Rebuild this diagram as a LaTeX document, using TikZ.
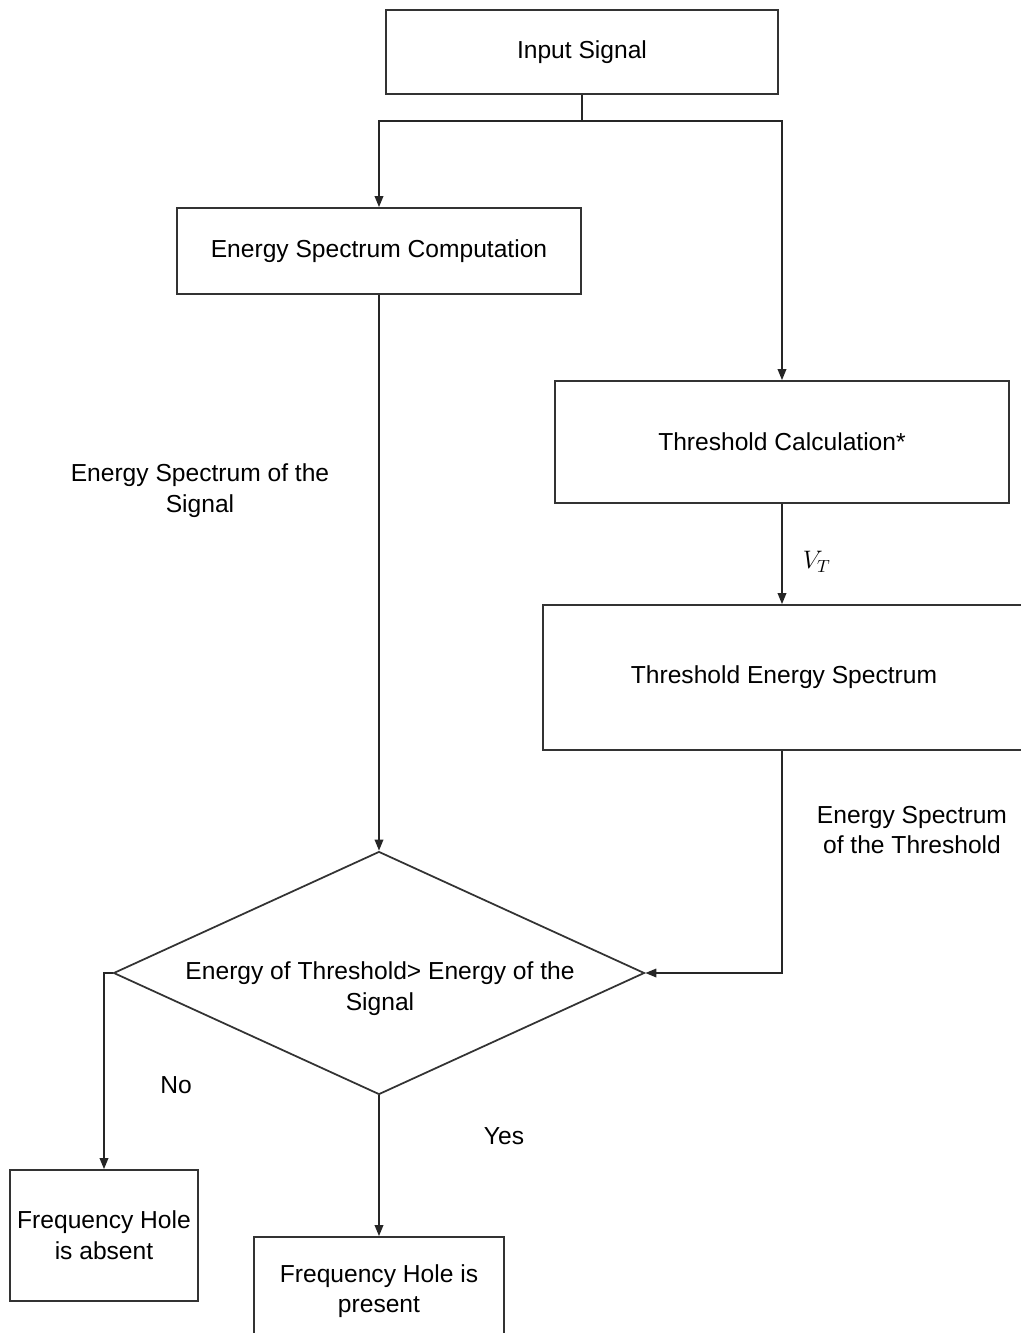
\documentclass[tikz,border=0pt]{standalone}
\usepackage{fontspec}
\setmainfont{Liberation Sans}
\usetikzlibrary{shapes.geometric,arrows.meta}
\tikzset{
  box/.style={draw=black!80,line width=1pt,rectangle,align=center,inner sep=2pt},
  decision/.style={draw=black!80,line width=1pt,diamond,aspect=2.185,inner sep=0pt},
  label/.style={align=center,inner sep=0pt},
  flow/.style={draw=black!85,line width=1pt,-{Triangle[length=2.2mm,width=1.7mm]}},
  every node/.style={font=\fontsize{14}{17.5}\selectfont}
}
\begin{document}
\begin{tikzpicture}[x=0.02cm,y=-0.02cm]
      \useasboundingbox (0,0) rectangle (1021,1333); % page size
      \node[box,minimum width=7.84cm,minimum height=1.68cm] (input) at (582,52) {Input Signal}; % input
      \node[box,minimum width=8.08cm,minimum height=1.72cm] (energy) at (379,251) {Energy Spectrum Computation}; % spectrum
      \node[box,minimum width=9.08cm,minimum height=2.44cm] (thresh) at (782,442) {Threshold Calculation*}; % threshold
      \node[box,minimum width=9.64cm,minimum height=2.90cm] (threshspec) at (784,677.5) {Threshold Energy Spectrum}; % threshold spectrum
      \node[decision,minimum width=10.62cm,minimum height=4.86cm] (test) at (379,973) {}; % comparison
      \node[label] (testtext) at (380,989) {Energy of Threshold> Energy of the\\Signal}; % comparison text
      \node[box,minimum width=3.76cm,minimum height=2.62cm] (absent) at (104,1235.5) {Frequency Hole\\is absent}; % no hole
      \node[box,minimum width=5.0cm,minimum height=2.16cm] (present) at (379,1291) {Frequency Hole is\\present}; % hole
      \coordinate (split) at (582,121); % branch point
      \draw[draw=black!85,line width=1pt] (input.south) -- (split); % Wiring
      \draw[flow] (split) -| (energy.north); % Wiring
      \draw[flow] (split) -| (thresh.north); % Wiring
      \draw[flow] (thresh.south) -- node[right=8pt,yshift=-0.16cm] (vt) {$V_T$} (thresh.south |- threshspec.north); % VT
      \draw[flow] (energy) -- (test.north); % Wiring
      \draw[flow] (thresh.south |- threshspec.south) |- (test.east); % Wiring
      \draw[flow] (test.west) -| (absent.north); % No branch
      \draw[flow] (test.south) -- (present.north); % Yes branch
      \node[label] (sigspec) at (200,491) {Energy Spectrum of the\\Signal}; % left label
      \node[label] (thrspec) at (912,830) {Energy Spectrum\\of the Threshold}; % right label
      \node[label] (no) at (176,1085) {No}; % No label
      \node[label] (yes) at (504,1136) {Yes}; % Yes label
\end{tikzpicture}
\end{document}
